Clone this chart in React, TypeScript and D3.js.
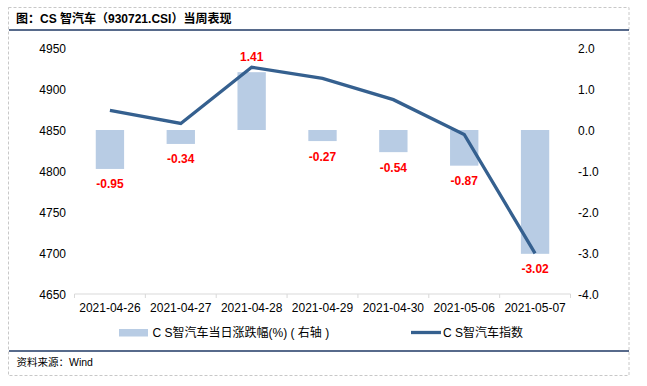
import { line, range, scaleBand, scaleLinear } from "d3";

const dates = [
  "2021-04-26",
  "2021-04-27",
  "2021-04-28",
  "2021-04-29",
  "2021-04-30",
  "2021-05-06",
  "2021-05-07"
];
const dailyChange = [-0.95, -0.34, 1.41, -0.27, -0.54, -0.87, -3.02];
const indexClose = [4874, 4858, 4926.5, 4913, 4887, 4844.5, 4699.5];
const leftTicks = [4650, 4700, 4750, 4800, 4850, 4900, 4950];
const rightTicks = [-4, -3, -2, -1, 0, 1, 2];

const title = "图：CS 智汽车（930721.CSI）当周表现";
const barLegend = "C S智汽车当日涨跌幅(%) ( 右轴 )";
const lineLegend = "C S智汽车指数";
const source = "资料来源：Wind";

const font = "'Liberation Sans', Arial, 'Noto Sans CJK SC', sans-serif";
const barColor = "#b8cce4";
const lineColor = "#35608f";
const navy = "#1f3864";
const axisColor = "#d9d9d9";

const plotLeft = 74.5;
const plotRight = 570.5;
const plotTop = 48;
const plotBottom = 294;

function App() {
  const x = scaleBand<string>().domain(dates).range([plotLeft, plotRight]).padding(0);
  const yLeft = scaleLinear().domain([4650, 4950]).range([plotBottom, plotTop]);
  const yRight = scaleLinear().domain([-4, 2]).range([plotBottom, plotTop]);
  const barWidth = x.bandwidth() * 0.4;
  const center = (d: string) => (x(d) ?? 0) + x.bandwidth() / 2;

  const path =
    line<number>()
      .x((_, i) => center(dates[i]))
      .y((v) => yLeft(v))(indexClose) ?? "";

  const boundaries = range(dates.length + 1).map((i) => plotLeft + i * x.step());

  return (
    <svg
      width={647}
      height={386}
      style={{ position: "absolute", left: 0, top: 0, fontFamily: font }}
    >
      <rect width={647} height={386} fill="#fff" />
      <rect
        x={8.5}
        y={7.5}
        width={620.5}
        height={368}
        fill="none"
        stroke="#c8c8c8"
        strokeDasharray="3,2"
      />
      <text x={16} y={22.5} fontSize={12} fontWeight="bold" fill="#000">
        {title}
      </text>
      <line x1={9} x2={629} y1={30} y2={30} stroke={navy} strokeWidth={1.5} />

      {/* bars on right axis */}
      {dates.map((d, i) => {
        const v = dailyChange[i];
        const y0 = yRight(0);
        const y1 = yRight(v);
        return (
          <rect
            key={d}
            x={center(d) - barWidth / 2}
            y={Math.min(y0, y1)}
            width={barWidth}
            height={Math.abs(y1 - y0)}
            fill={barColor}
          />
        );
      })}

      {/* x axis */}
      <line x1={plotLeft} x2={plotRight} y1={plotBottom} y2={plotBottom} stroke={axisColor} />
      {boundaries.map((bx, i) => (
        <line key={i} x1={bx} x2={bx} y1={plotBottom} y2={plotBottom + 4} stroke={axisColor} />
      ))}
      {dates.map((d) => (
        <text key={d} x={center(d)} y={312} fontSize={12} textAnchor="middle" fill="#000">
          {d}
        </text>
      ))}

      {/* left axis */}
      {leftTicks.map((t) => (
        <text key={t} x={66} y={yLeft(t) + 4.5} fontSize={12} textAnchor="end" fill="#000">
          {t}
        </text>
      ))}
      {/* right axis */}
      {rightTicks.map((t) => (
        <text key={t} x={578} y={yRight(t) + 4.5} fontSize={12} fill="#000">
          {t.toFixed(1)}
        </text>
      ))}

      <path d={path} fill="none" stroke={lineColor} strokeWidth={3.3} strokeLinejoin="miter" />

      {/* bar labels */}
      {dates.map((d, i) => {
        const v = dailyChange[i];
        const ly = v >= 0 ? yRight(v) - 16 : yRight(v) + 15;
        return (
          <text
            key={d}
            x={center(d)}
            y={ly + 4.5}
            fontSize={12}
            fontWeight="bold"
            textAnchor="middle"
            fill="#ff0000"
          >
            {v.toFixed(2)}
          </text>
        );
      })}

      {/* legend */}
      <rect x={119} y={329} width={29} height={7.5} fill={barColor} />
      <text x={152.5} y={337} fontSize={12} fill="#000">
        {barLegend}
      </text>
      <line x1={411} x2={441} y1={332.5} y2={332.5} stroke={lineColor} strokeWidth={3.3} />
      <text x={443} y={337} fontSize={12} fill="#000">
        {lineLegend}
      </text>

      <line x1={9} x2={629} y1={351} y2={351} stroke={navy} strokeWidth={1.5} />
      <text x={16.5} y={366} fontSize={10.5} fill="#000">
        {source}
      </text>
    </svg>
  );
}

export default App;
